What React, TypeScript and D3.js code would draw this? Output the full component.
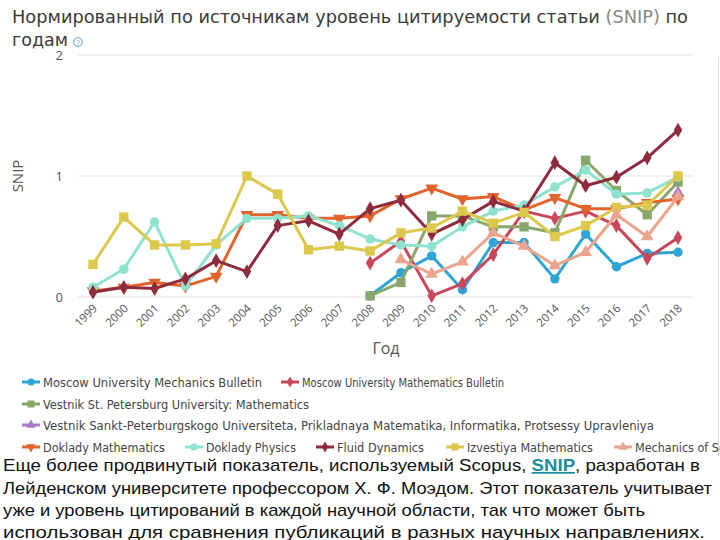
import React from "react";
import * as d3 from "d3";

// years on the x axis
const years = d3.range(1999, 2019);
const yTicks = [0, 1, 2];

const n = null;
// SNIP values per journal, one per year (null = no data)
const mechBulletin = [n, n, n, n, n, n, n, n, n, 0.01, 0.2, 0.34, 0.06, 0.45, 0.45, 0.15, 0.52, 0.25, 0.36, 0.37];
const mathBulletin = [n, n, n, n, n, n, n, n, n, 0.28, 0.46, 0.01, 0.11, 0.35, 0.71, 0.65, 0.71, 0.59, 0.32, 0.49];
const vestnikSpb = [n, n, n, n, n, n, n, n, n, 0.01, 0.12, 0.67, 0.67, 0.58, 0.58, 0.53, 1.13, 0.88, 0.68, 0.95];
const vestnikSankt = [n, n, n, n, n, n, n, n, n, n, n, n, n, n, n, n, n, n, n, 0.86];
const dokladyMath = [0.05, 0.08, 0.12, 0.09, 0.17, 0.68, 0.68, 0.65, 0.65, 0.67, 0.81, 0.9, 0.81, 0.83, 0.72, 0.82, 0.73, 0.73, 0.78, 0.81];
const dokladyPhys = [0.08, 0.23, 0.62, 0.09, 0.43, 0.65, 0.65, 0.67, 0.59, 0.48, 0.43, 0.42, 0.58, 0.71, 0.76, 0.91, 1.05, 0.85, 0.86, 0.99];
const fluidDyn = [0.04, 0.08, 0.07, 0.15, 0.3, 0.21, 0.59, 0.63, 0.52, 0.73, 0.8, 0.52, 0.64, 0.79, 0.71, 1.11, 0.92, 0.99, 1.15, 1.38];
const izvestiya = [0.27, 0.66, 0.43, 0.43, 0.44, 1.0, 0.85, 0.39, 0.42, 0.38, 0.53, 0.57, 0.71, 0.61, 0.7, 0.5, 0.59, 0.74, 0.76, 1.0];
const mechSolids = [n, n, n, n, n, n, n, n, n, n, 0.31, 0.19, 0.29, 0.53, 0.42, 0.26, 0.37, 0.68, 0.5, 0.83];

const series = [
  { name: "Moscow University Mechanics Bulletin", values: mechBulletin, color: "#2ea5d5", shape: "circle" },
  { name: "Moscow University Mathematics Bulletin", values: mathBulletin, color: "#c8475a", shape: "diamond" },
  { name: "Vestnik St. Petersburg University: Mathematics", values: vestnikSpb, color: "#8aa76b", shape: "square" },
  { name: "Vestnik Sankt-Peterburgskogo Universiteta, Prikladnaya Matematika, Informatika, Protsessy Upravleniya", values: vestnikSankt, color: "#a87cc8", shape: "triangle" },
  { name: "Doklady Mathematics", values: dokladyMath, color: "#e2642c", shape: "triangle-down" },
  { name: "Doklady Physics", values: dokladyPhys, color: "#8fe2cd", shape: "circle" },
  { name: "Fluid Dynamics", values: fluidDyn, color: "#8e2b3d", shape: "diamond" },
  { name: "Izvestiya Mathematics", values: izvestiya, color: "#dcc84a", shape: "square" },
  { name: "Mechanics of Solids", values: mechSolids, color: "#eba48d", shape: "triangle" },
];

// legend layout: [series index, x, y, text width]
const legendItems = [
  [0, 31, 382, 219], [1, 290, 382, 202],
  [2, 31, 404, 266],
  [3, 31, 425, 611],
  [4, 31, 447, 122], [5, 194, 447, 90], [6, 325, 447, 87], [7, 455, 447, 126], [8, 623, 447, 110],
];

const bottomText = [
  "Еще более продвинутый показатель, используемый Scopus, ",
  "Лейденском университете профессором Х. Ф. Моэдом. Этот показатель учитывает",
  "уже и уровень цитирований в каждой научной области, так что может быть",
  "использован для сравнения публикаций в разных научных направлениях.",
];

const symbolFor = (shape: string, size: number) => {
  const map: Record<string, any> = {
    circle: d3.symbolCircle,
    diamond: d3.symbolDiamond,
    square: d3.symbolSquare,
    triangle: d3.symbolTriangle,
    "triangle-down": d3.symbolTriangle,
  };
  const s = shape === "square" ? size * 1.25 : shape === "diamond" ? size * 0.9 : size;
  return d3.symbol(map[shape], s)() as string;
};

const Marker = ({ shape, color, x, y, size }: any) => (
  <path
    d={symbolFor(shape, size)}
    fill={color}
    transform={`translate(${x},${y})${shape === "triangle-down" ? " rotate(180)" : ""}`}
  />
);

const App = () => {
  const width = 720;
  const height = 540;

  const x = d3.scalePoint<number>().domain(years).range([93, 678]);
  const y = d3.scaleLinear().domain([0, 2]).range([297, 55]);

  const line = d3
    .line<number | null>()
    .defined((d) => d !== null)
    .x((d, i) => x(years[i]) as number)
    .y((d) => y(d as number));

  const narrow = "'Liberation Sans Narrow', 'DejaVu Sans Condensed', sans-serif";
  const caption = "'Liberation Sans', Arial, sans-serif";

  return (
    <div style={{ position: "absolute", left: 0, top: 0 }}>
      <svg width={width} height={height} style={{ display: "block", background: "#fff" }}>
        {/* title */}
        <text x={12} y={23} fontFamily={narrow} fontSize={18.5} fill="#3a3a3a" textLength={676} lengthAdjust="spacingAndGlyphs">
          Нормированный по источникам уровень цитируемости статьи <tspan fill="#888">(SNIP)</tspan> по
        </text>
        <text x={12} y={46} fontFamily={narrow} fontSize={18.5} fill="#3a3a3a" textLength={56} lengthAdjust="spacingAndGlyphs">
          годам
        </text>
        <circle cx={78} cy={42} r={4.3} fill="none" stroke="#5b9bd0" strokeWidth={1} />
        <text x={78} y={44.5} textAnchor="middle" fontSize={6.5} fill="#5b9bd0" fontFamily="sans-serif">?</text>

        {/* right border */}
        <line x1={718.5} x2={718.5} y1={58} y2={456} stroke="#ddd" />

        {/* grid + y axis */}
        {yTicks.map((t) => (
          <g key={t}>
            <line x1={78} x2={693} y1={y(t)} y2={y(t)} stroke="#e3e3e3" />
            <text x={63} y={y(t) + 5} textAnchor="end" fontFamily="'Open Sans', sans-serif" fontSize={13} fill="#555">
              {t}
            </text>
          </g>
        ))}
        <text transform={`translate(23,176) rotate(-90)`} textAnchor="middle" fontFamily="'Open Sans', sans-serif" fontSize={15} fill="#555">
          SNIP
        </text>

        {/* x axis labels */}
        {years.map((yr) => (
          <text
            key={yr}
            transform={`translate(${(x(yr) as number) + 5},${309}) rotate(-45)`}
            textAnchor="end"
            fontFamily="'Open Sans', sans-serif"
            fontSize={11.5}
            fill="#555"
          >
            {yr}
          </text>
        ))}
        <text x={386} y={354} textAnchor="middle" fontFamily="'Open Sans', sans-serif" fontSize={16} fill="#555">
          Год
        </text>

        {/* series */}
        {series.map((s) => (
          <g key={s.name}>
            <path d={line(s.values) as string} fill="none" stroke={s.color} strokeWidth={3} strokeLinejoin="round" />
            {s.values.map((v, i) =>
              v === null ? null : (
                <Marker key={i} shape={s.shape} color={s.color} x={x(years[i])} y={y(v)} size={70} />
              )
            )}
          </g>
        ))}

        {/* legend */}
        {legendItems.map(([si, lx, ly, tw]) => {
          const s = series[si];
          return (
            <g key={si}>
              <line x1={lx - 9} x2={lx + 9} y1={ly} y2={ly} stroke={s.color} strokeWidth={3} />
              <Marker shape={s.shape} color={s.color} x={lx} y={ly} size={40} />
              <text x={lx + 12} y={ly + 4.5} fontFamily={narrow} fontSize={13} fill="#444" textLength={tw} lengthAdjust="spacingAndGlyphs">
                {s.name}
              </text>
            </g>
          );
        })}

        {/* caption text */}
        <rect x={0} y={456} width={720} height={84} fill="#fff" />
        <text x={3} y={471} fontFamily={caption} fontSize={17} fill="#111" textLength={697} lengthAdjust="spacingAndGlyphs">
          {bottomText[0]}
          <tspan fill="#1c8c9c" fontWeight="bold" textDecoration="underline">SNIP</tspan>
          <tspan>, разработан в</tspan>
        </text>
        {bottomText.slice(1).map((t, i) => (
          <text
            key={i}
            x={3}
            y={493.5 + i * 22}
            fontFamily={caption}
            fontSize={17}
            fill="#111"
            textLength={[709, 642, 702][i]}
            lengthAdjust="spacingAndGlyphs"
          >
            {t}
          </text>
        ))}
      </svg>
    </div>
  );
};

export default App;
